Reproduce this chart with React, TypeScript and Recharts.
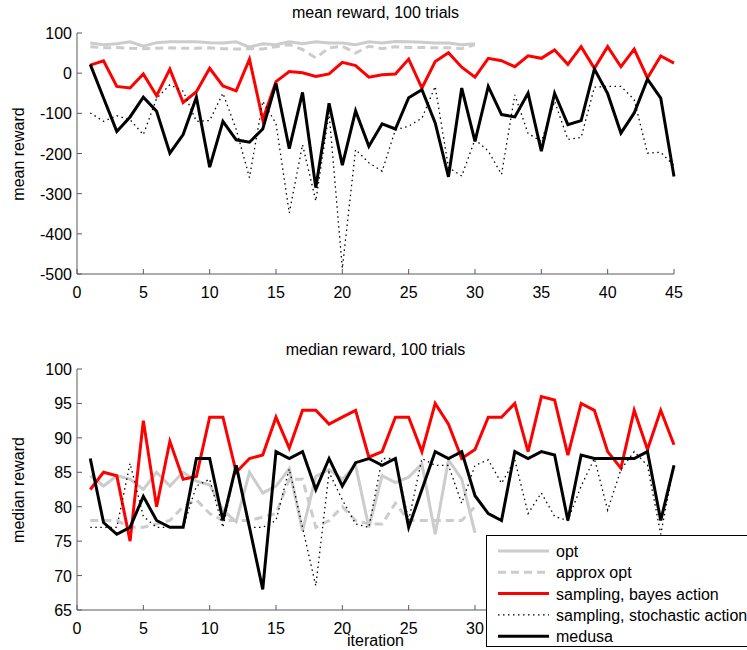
import React from 'react';
import { LineChart, Line, XAxis, YAxis } from 'recharts';

// ---------- data ----------
const iterations = [1, 2, 3, 4, 5, 6, 7, 8, 9, 10, 11, 12, 13, 14, 15, 16, 17, 18, 19, 20, 21, 22, 23, 24, 25, 26, 27, 28, 29, 30, 31, 32, 33, 34, 35, 36, 37, 38, 39, 40, 41, 42, 43, 44, 45];
const xTicks = [0, 5, 10, 15, 20, 25, 30, 35, 40, 45];
const meanTicks = [-500, -400, -300, -200, -100, 0, 100];
const medianTicks = [65, 70, 75, 80, 85, 90, 95, 100];

const meanOpt = [75, 71, 73, 78, 67, 76, 78, 78, 78, 76, 75, 78, 65, 73, 71, 78, 73, 78, 75, 75, 71, 78, 75, 79, 78, 77, 75, 75, 71, 73];
const meanApprox = [66, 63, 64, 62, 61, 62, 63, 62, 62, 63, 61, 60, 61, 60, 66, 71, 59, 38, 63, 67, 50, 67, 61, 66, 64, 64, 63, 63, 61, 71];
const meanBayes = [20, 31, -33, -37, -2, -56, 10, -73, -46, 12, -32, -44, 35, -116, -21, 4, 1, -8, -2, 27, 19, -10, -4, -2, 35, -37, 29, 51, 15, -10, 37, 31, 16, 43, 37, 58, 22, 66, 12, 66, 16, 60, -12, 43, 25];
const meanStoch = [-99, -120, -106, -116, -153, -63, -29, -45, -120, -118, -50, -140, -260, -70, -125, -348, -178, -318, -99, -486, -190, -223, -244, -141, -132, -112, -33, -235, -256, -165, -194, -252, -54, -150, -170, -70, -165, -160, -35, -33, -33, -66, -199, -197, -230];
const meanMedusa = [22, -62, -145, -109, -60, -95, -199, -153, -60, -234, -120, -166, -172, -139, -25, -188, -48, -285, -75, -229, -94, -182, -126, -139, -61, -41, -124, -258, -37, -170, -33, -103, -109, -50, -194, -50, -128, -118, 10, -51, -149, -99, -15, -62, -257];

const medOpt = [84.5, 83, 84.5, 84, 82.5, 85, 83, 85, 83.7, 83.2, 79.5, 77.8, 85, 82, 83, 85.5, 76.5, 84.4, 85.4, 84, 86, 77, 84.5, 83.5, 84.3, 86.2, 76, 86.8, 84, 76.2];
const medApprox = [78, 78, 78, 77, 77, 77.5, 78, 80, 81, 79, 78, 78, 78, 78.5, 79, 84, 84, 77, 78, 80, 78, 77.5, 77.5, 80.5, 78, 78, 78, 78, 78, 80];
const medBayes = [82.5, 85, 84.5, 75, 92.5, 80, 89.5, 84, 84.4, 93, 93, 85, 87, 87.5, 93, 88.5, 94, 94, 92, 93, 94, 87.2, 88, 93, 93, 88, 95, 92, 87, 88.3, 93, 93, 95, 88, 96, 95.5, 87.5, 95, 94, 88, 85.6, 94, 88.3, 94, 89];
const medStoch = [77, 77, 77, 86.3, 78.6, 77, 77, 77, 83, 84, 77, 86, 77, 77, 78, 85.5, 77, 68.5, 85, 81, 77.5, 77, 87, 87, 78, 87, 86, 86, 80.5, 86, 86.8, 83.4, 86.8, 79, 82, 78.6, 78, 83, 87, 79.5, 85.4, 88, 86, 76, 86];
const medMedusa = [87, 77.7, 76, 77, 81.5, 78, 77, 77, 87, 87, 78, 86, 77, 68, 88, 87, 88, 82.5, 87, 83, 86.4, 87, 86, 87, 77, 82.5, 88, 87, 88, 81.6, 79, 78, 88, 87, 88, 87.5, 78, 87.5, 87, 87, 87, 87, 88, 78, 86];

const seriesNames = ['opt', 'approx opt', 'sampling, bayes action', 'sampling, stochastic action', 'medusa'];

// ---------- styles ----------
const FONT = '"Liberation Sans", Arial, Helvetica, sans-serif';
const AXIS = '#5a5a5a';
const GRAY = '#cccccc';

const seriesStyles = [
  { key: 'opt', stroke: GRAY, width: 3, dash: undefined as string | undefined },
  { key: 'approx', stroke: GRAY, width: 3, dash: '8 5' },
  { key: 'bayes', stroke: '#ff0000', width: 3, dash: undefined },
  { key: 'stoch', stroke: '#000000', width: 1.3, dash: '1.5 3.5' },
  { key: 'medusa', stroke: '#000000', width: 3, dash: undefined },
];

function buildRows(opt: number[], approx: number[], bayes: number[], stoch: number[], medusa: number[]) {
  return iterations.map((it, k) => ({
    i: it,
    opt: k < opt.length ? opt[k] : undefined,
    approx: k < approx.length ? approx[k] : undefined,
    bayes: bayes[k],
    stoch: stoch[k],
    medusa: medusa[k],
  }));
}

const meanRows = buildRows(meanOpt, meanApprox, meanBayes, meanStoch, meanMedusa);
const medianRows = buildRows(medOpt, medApprox, medBayes, medStoch, medMedusa);

const makeXTick = (maxLabel: number) => (props: any) => {
  const { x, y, payload } = props;
  return (
    <g>
      <line x1={x} x2={x} y1={y} y2={y - 5} stroke={AXIS} strokeWidth={1} />
      {payload.value <= maxLabel ? (
        <text x={x} y={y + 24} textAnchor="middle" fontFamily={FONT} fontSize={16} fill="#000">
          {payload.value}
        </text>
      ) : null}
    </g>
  );
};

const YTick = (props: any) => {
  const { x, y, payload } = props;
  return (
    <g>
      <line x1={x} x2={x + 5} y1={y} y2={y} stroke={AXIS} strokeWidth={1} />
      <text x={x - 5} y={y + 6} textAnchor="end" fontFamily={FONT} fontSize={16} fill="#000">
        {payload.value}
      </text>
    </g>
  );
};

function Panel({ rows, yDomain, yTicks, top, maxLabel }: { rows: any[]; yDomain: [number, number]; yTicks: number[]; top: number; maxLabel: number }) {
  const XT = makeXTick(maxLabel);
  return (
    <div style={{ position: 'absolute', left: 0, top }}>
      <LineChart width={747} height={310} data={rows} margin={{ top: 34, right: 73, left: 0, bottom: 5 }}>
        <XAxis
          dataKey="i"
          type="number"
          domain={[0, 45]}
          ticks={xTicks}
          interval={0}
          height={30}
          tickSize={0}
          tickMargin={0}
          tickLine={false}
          axisLine={{ stroke: AXIS, strokeWidth: 1 }}
          tick={(p: any) => <XT {...p} />}
        />
        <YAxis
          type="number"
          domain={yDomain}
          ticks={yTicks}
          interval={0}
          width={77}
          tickSize={0}
          tickMargin={0}
          tickLine={false}
          axisLine={{ stroke: AXIS, strokeWidth: 1 }}
          tick={<YTick />}
        />
        {seriesStyles.map((s) => (
          <Line
            key={s.key}
            dataKey={s.key}
            type="linear"
            stroke={s.stroke}
            strokeWidth={s.width}
            strokeDasharray={s.dash}
            dot={false}
            activeDot={false}
            isAnimationActive={false}
            strokeLinejoin="miter"
          />
        ))}
      </LineChart>
    </div>
  );
}

function Legend() {
  return (
    <div
      style={{
        position: 'absolute',
        left: 486,
        top: 535,
        width: 300,
        height: 112,
        border: '1px solid #000',
        background: '#fff',
        boxSizing: 'border-box',
      }}
    >
      <svg width={300} height={112} style={{ display: 'block' }}>
        {seriesStyles.map((s, k) => {
          const cy = 15 + k * 21.3;
          return (
            <g key={s.key}>
              <line x1={11} x2={62} y1={cy} y2={cy} stroke={s.stroke} strokeWidth={s.width} strokeDasharray={s.dash} />
              <text x={69} y={cy + 6} fontFamily={FONT} fontSize={16} fill="#000">
                {seriesNames[k]}
              </text>
            </g>
          );
        })}
      </svg>
    </div>
  );
}

export default function App() {
  return (
    <div style={{ position: 'absolute', left: 0, top: 0, width: 747, height: 650, overflow: 'hidden', background: '#fff' }}>
      <Panel rows={meanRows} yDomain={[-500, 100]} yTicks={meanTicks} top={-1} maxLabel={45} />
      <Panel rows={medianRows} yDomain={[65, 100]} yTicks={medianTicks} top={335} maxLabel={30} />
      <svg width={747} height={650} style={{ position: 'absolute', left: 0, top: 0, pointerEvents: 'none' }}>
        <text x={375.5} y={18} textAnchor="middle" fontFamily={FONT} fontSize={16} fill="#000">mean reward, 100 trials</text>
        <text x={375.5} y={355} textAnchor="middle" fontFamily={FONT} fontSize={16} fill="#000">median reward, 100 trials</text>
        <text x={375.5} y={646} textAnchor="middle" fontFamily={FONT} fontSize={16} fill="#000">iteration</text>
        <text x={24} y={154} textAnchor="middle" fontFamily={FONT} fontSize={16} fill="#000" transform="rotate(-90 24 154)">mean reward</text>
        <text x={24} y={490} textAnchor="middle" fontFamily={FONT} fontSize={16} fill="#000" transform="rotate(-90 24 490)">median reward</text>
      </svg>
      <Legend />
    </div>
  );
}
